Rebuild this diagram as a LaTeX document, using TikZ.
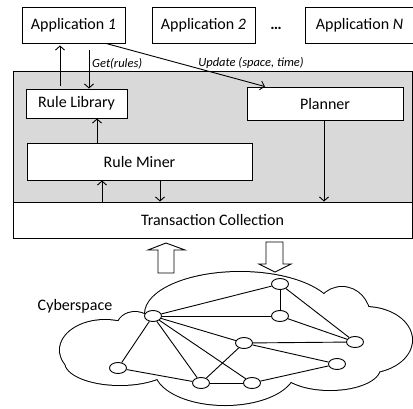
\documentclass[tikz,border=0pt]{standalone}
\usepackage{fontspec}
\setmainfont{Carlito}
\usetikzlibrary{arrows.meta,shapes.geometric}
\begin{document}
\begin{tikzpicture}[x=1pt,y=-1pt,
  box/.style={draw, line width=0.9pt, fill=white, inner sep=0pt, font=\fontsize{16}{19}\selectfont},
  arr/.style={line width=0.9pt, -{Straight Barb[length=4pt,width=9pt]}},
  lbl/.style={font=\fontsize{12.5}{15}\selectfont\itshape, inner sep=0pt},
  gnode/.style={draw, ellipse, line width=0.9pt, fill=white, minimum width=17pt, minimum height=11pt, inner sep=0pt},
  gedge/.style={line width=0.9pt},
  hollow/.style={draw, line width=0.9pt, fill=white, line join=miter}
]
\useasboundingbox (0,0) rectangle (413,408);

% applications
\node[box, minimum width=103pt, minimum height=36pt] (A1) at (73.5,25) {Application \textit{1}};
\node[box, minimum width=103pt, minimum height=36pt] (A2) at (203.5,25) {Application \textit{2}};
\node[inner sep=0pt, font=\fontsize{16}{19}\selectfont] (dots) at (276,28) {\textbf{…}};
\node[box, minimum width=109pt, minimum height=36pt] (AN) at (359.5,25) {Application \textit{N}};

% system
\node[draw, line width=0.9pt, fill={rgb,255:red,217;green,217;blue,217}, minimum width=399pt, minimum height=131pt, inner sep=0pt] (sys) at (212.5,136.5) {};
\node[box, minimum width=399pt, minimum height=36pt] (TC) at (212.5,220) {Transaction Collection};
\node[box, minimum width=101pt, minimum height=29pt] (RL) at (76.5,103.5) {Rule Library};
\node[box, minimum width=156pt, minimum height=33pt] (PL) at (325,103.5) {Planner};
\node[box, minimum width=225pt, minimum height=37pt] (RM) at (139.5,161.5) {Rule Miner};

% helper x positions
\coordinate (x60) at (60,0);
\coordinate (x89) at (89,0);
\coordinate (x97) at (97,0);
\coordinate (x102) at (102,0);
\coordinate (x160) at (160,0);
\coordinate (x324) at (324,0);
\coordinate (x106) at (106,0);
\coordinate (x265) at (265,0);

\draw[arr, shorten <=3pt, shorten >=2pt] (x60 |- RL.north) -- (x60 |- A1.south);
\draw[arr, shorten <=7pt] (x89 |- A1.south) -- (x89 |- RL.north);
\draw[arr] (x106 |- A1.south) -- (x265 |- PL.north);
\draw[arr] (x97 |- RM.north) -- (x97 |- RL.south);
\draw[arr] (x102 |- TC.north) -- (x102 |- RM.south);
\draw[arr] (x160 |- RM.south) -- (x160 |- TC.north);
\draw[arr] (x324 |- PL.south) -- (x324 |- TC.north);

\node[lbl, anchor=west] (get) at (92,64) {Get(rules)};
\node[lbl] (upd) at (251,63) {Update (space, time)};

% hollow block arrows
\draw[hollow] (158,273) -- (158,250) -- (148,250) -- (166,243) -- (185,250) -- (174,250) -- (174,273) -- cycle;
\draw[hollow] (266,242) -- (266,264) -- (259,264) -- (275,272) -- (291,264) -- (283,264) -- (283,242) -- cycle;

% cloud: union of ellipses
\def\lobes{105/350/45/30, 135/327/18/15, 240/314/95/42, 342/317/28/30, 365/340/47/33, 330/368/50/22, 225/370/70/35, 120/362/55/23}
\foreach \cx/\cy/\rx/\ry in \lobes
  \draw[line width=2pt] (\cx,\cy) ellipse [x radius=\rx pt, y radius=\ry pt];
\foreach \cx/\cy/\rx/\ry in \lobes
  \fill[white] (\cx,\cy) ellipse [x radius=\rx pt, y radius=\ry pt];
\fill[white] (260,340) ellipse [x radius=100pt, y radius=35pt];
\fill[white] (140,345) ellipse [x radius=25pt, y radius=20pt];

\node[inner sep=0pt, font=\fontsize{16}{19}\selectfont] (cyber) at (75,306) {Cyberspace};

% graph
\node[gnode] (a) at (153,316) {};
\node[gnode] (b) at (280,284) {};
\node[gnode] (c) at (280,316) {};
\node[gnode] (d) at (244,343) {};
\node[gnode] (e) at (355,342) {};
\node[gnode] (f) at (337,364) {};
\node[gnode] (g) at (118,368) {};
\node[gnode] (h) at (201,383) {};
\node[gnode] (i) at (252,383) {};
\foreach \u/\v in {a/b, a/c, a/d, a/h, a/i, a/g, b/c, b/e, c/e, d/e, d/f, d/h, g/h, h/i, i/f}
  \draw[gedge] (\u) -- (\v);
\end{tikzpicture}
\end{document}
